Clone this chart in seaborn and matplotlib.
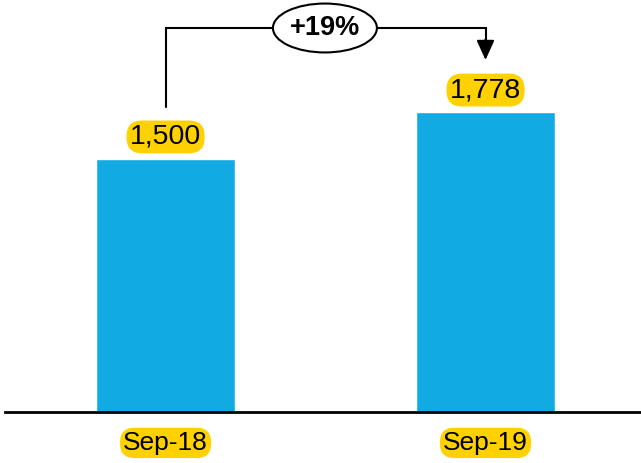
import matplotlib
matplotlib.use("Agg")
import matplotlib.pyplot as plt
import seaborn as sns
from matplotlib.patches import Ellipse

periods = ["Sep-18", "Sep-19"]
values = [1500, 1778]
growth_label = "+19%"

BAR_BLUE = "#12AAE2"
YELLOW = "#FFD100"

sns.set_style("white")
plt.rcParams["font.family"] = ["Liberation Sans", "DejaVu Sans"]
plt.rcParams["text.color"] = "black"

fig = plt.figure(figsize=(6.41, 4.63), dpi=100)
ax = fig.add_axes([5 / 641, 51 / 463, 636 / 641, 412 / 463])

sns.barplot(x=periods, y=values, color=BAR_BLUE, saturation=1, width=0.434, ax=ax)

ax.set_xlim(-0.502, 1.486)
ax.set_ylim(0, 2443)
for side in ["top", "right", "left"]:
    ax.spines[side].set_visible(False)
ax.spines["bottom"].set_linewidth(2)
ax.spines["bottom"].set_color("black")
ax.set_yticks([])
ax.set_xticks([])
ax.set_xlabel("")
ax.set_ylabel("")

box = dict(boxstyle="round,pad=0.12,rounding_size=0.55", fc=YELLOW, ec="none")

# value labels above bars
for i, v in enumerate(values):
    ax.text(i, v + 131, f"{v:,}", ha="center", va="center", fontsize=20.5,
            color="black", bbox=box, zorder=4)

# category labels under the axis line
for i, p in enumerate(periods):
    ax.text(i, -0.075, p, transform=ax.get_xaxis_transform(), ha="center", va="center",
            fontsize=19, color="black", bbox=box, clip_on=False)

# growth connector
top = 2277
ax.plot([0, 0, 1, 1], [values[0] + 309, top, top, 2200], color="black", lw=1.5,
        solid_joinstyle="miter", zorder=2)
ax.annotate("", xy=(1, 2087), xytext=(1, 2210),
            arrowprops=dict(arrowstyle="-|>,head_length=1.0,head_width=0.45",
                            mutation_scale=12, color="black", lw=1.5, shrinkA=0, shrinkB=0))
ax.add_patch(Ellipse((0.498, top), 0.325, 290, fc="white", ec="black", lw=1.5, zorder=3))
ax.text(0.498, top, growth_label, ha="center", va="center", fontsize=19.5,
        fontweight="bold", color="black", zorder=4)

fig.savefig("out.png", dpi=100)
